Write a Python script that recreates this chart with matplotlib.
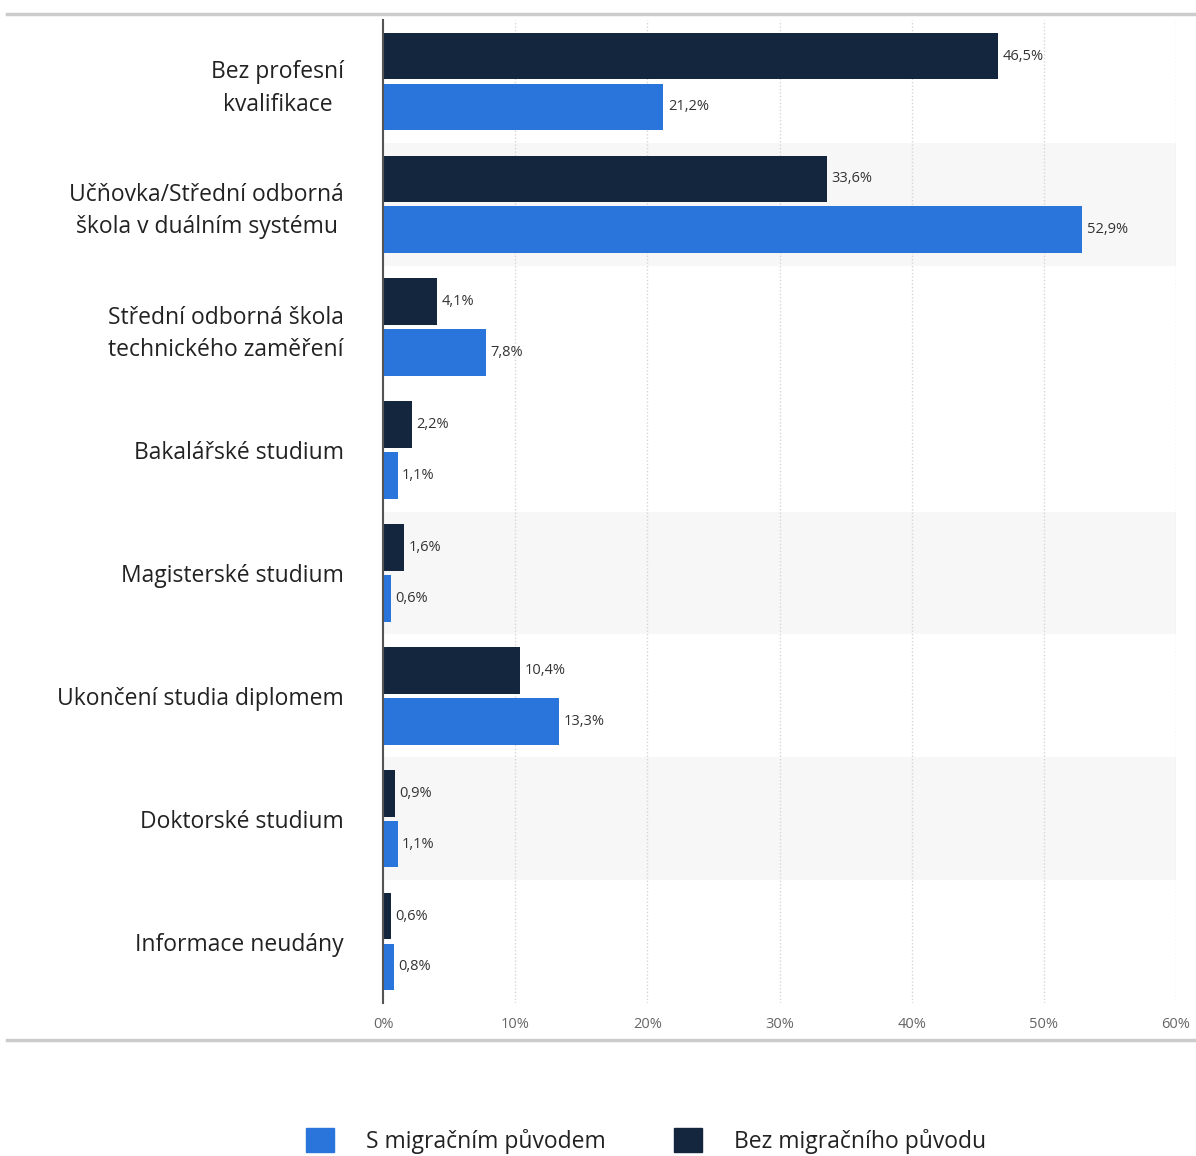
import numpy as np
import matplotlib.pyplot as plt
from matplotlib.patches import Patch
from matplotlib.lines import Line2D

plt.rcParams['font.family'] = ['Open Sans', 'DejaVu Sans']

categories = ['Bez profesní\nkvalifikace',
              'Učňovka/Střední odborná\nškola v duálním systému',
              'Střední odborná škola\ntechnického zaměření',
              'Bakalářské studium',
              'Magisterské studium',
              'Ukončení studia diplomem',
              'Doktorské studium',
              'Informace neudány']
bez_migrace = [46.5, 33.6, 4.1, 2.2, 1.6, 10.4, 0.9, 0.6]
s_migraci = [21.2, 52.9, 7.8, 1.1, 0.6, 13.3, 1.1, 0.8]
series_names = ['S migračním původem', 'Bez migračního původu']
x_ticks = [0, 10, 20, 30, 40, 50, 60]
band_rows = [1, 4, 6]

dark = '#13263e'
blue = '#2a75db'

W, H = 1196, 1156
fig = plt.figure(figsize=(W / 100, H / 100), dpi=100)
ax = fig.add_axes([383 / W, (H - 1003) / H, (1176 - 383) / W, (1003 - 20) / H])

y = np.arange(len(categories))
off = 0.207
h = 0.38

for r in band_rows:
    ax.axhspan(r - 0.5, r + 0.5, color='#f7f7f7', zorder=0, lw=0)

ax.barh(y - off, bez_migrace, height=h, color=dark, zorder=3)
ax.barh(y + off, s_migraci, height=h, color=blue, zorder=3)

for yi, v in zip(y, bez_migrace):
    ax.text(v + 0.35, yi - off, f'{v:.1f}%'.replace('.', ','), va='center', ha='left',
            fontsize=10.5, color='#333333', zorder=4)
for yi, v in zip(y, s_migraci):
    ax.text(v + 0.35, yi + off, f'{v:.1f}%'.replace('.', ','), va='center', ha='left',
            fontsize=10.5, color='#333333', zorder=4)

ax.set_xlim(0, 60)
ax.set_ylim(len(categories) - 0.5, -0.5)
ax.set_xticks(x_ticks)
ax.set_xticklabels([f'{t}%' for t in x_ticks], fontsize=10.5, color='#666666')
ax.set_yticks(y)
ax.set_yticklabels(categories, fontsize=16.5, color='#222222', multialignment='center',
                   linespacing=1.45)
ax.tick_params(axis='y', length=0, pad=28)
ax.tick_params(axis='x', length=0, pad=10)

ax.grid(axis='x', color='#d6d6d6', linestyle=(0, (1, 1.5)), lw=1, zorder=1)
ax.set_axisbelow(True)
for s in ['top', 'right', 'bottom']:
    ax.spines[s].set_visible(False)
ax.spines['left'].set_color('#555555')
ax.spines['left'].set_linewidth(1.5)
ax.spines['left'].set_zorder(5)

fig.add_artist(Line2D([7 / W, 1], [1 - 14 / H, 1 - 14 / H], color='#cccccc', lw=2.5))
fig.add_artist(Line2D([7 / W, 1], [1 - 1040 / H, 1 - 1040 / H], color='#cccccc', lw=2.5))

handles = [Patch(facecolor=blue, edgecolor=blue), Patch(facecolor=dark, edgecolor=dark)]
fig.legend(handles, series_names, loc='center', bbox_to_anchor=(646 / W, 1 - 1141 / H),
           ncol=2, frameon=False, fontsize=16.5, handlelength=1.2, handleheight=1.2,
           handletextpad=1.4, columnspacing=3.0, labelcolor='#222222')

fig.savefig('out.png', dpi=100)
